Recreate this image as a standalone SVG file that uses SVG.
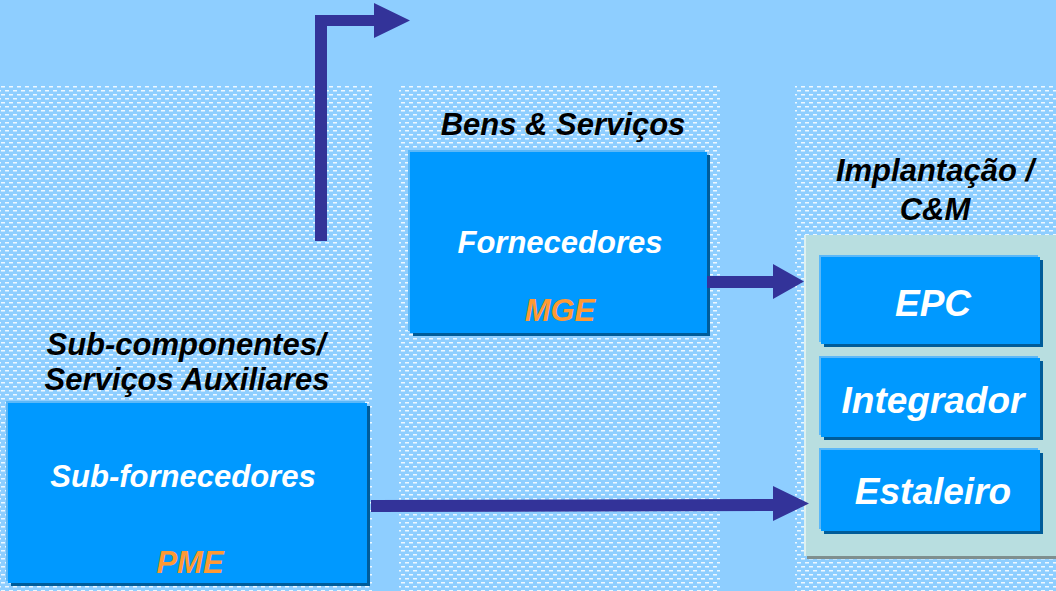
<svg xmlns="http://www.w3.org/2000/svg" width="1056" height="591" viewBox="0 0 1056 591">
<defs>
<pattern id="dots" x="0" y="85" width="8" height="8" patternUnits="userSpaceOnUse">
<rect width="8" height="8" fill="#8ECEFF"/>
<rect x="1" y="1" width="4" height="1.5" fill="#ffffff" opacity="0.85"/>
<rect x="5" y="5" width="4" height="1.5" fill="#ffffff" opacity="0.85"/>
<rect x="-3" y="5" width="4" height="1.5" fill="#ffffff" opacity="0.85"/>
</pattern>
<style>
.lbl{font-family:"Liberation Sans",Arial,sans-serif;font-weight:bold;font-style:italic;font-size:31px;fill:#000;text-anchor:middle}
.wt{font-family:"Liberation Sans",Arial,sans-serif;font-weight:bold;font-style:italic;font-size:31px;fill:#fff;text-anchor:middle}
.big{font-size:37px}
.or{font-family:"Liberation Sans",Arial,sans-serif;font-weight:bold;font-style:italic;font-size:31px;fill:#FF9933;text-anchor:middle}
.sh{fill:#005C99}
.hl{fill:#5CB8F8}
.bx{fill:#0099FF}
.arr{fill:#333399}
</style>
</defs>
<rect width="1056" height="591" fill="#8ECEFF"/>
<g id="columns">
<rect x="0" y="85" width="372" height="506" fill="url(#dots)"/>
<rect x="399" y="85" width="321" height="506" fill="url(#dots)"/>
<rect x="795" y="85" width="261" height="506" fill="url(#dots)"/>
</g>
<g id="labels">
<text class="lbl" x="563" y="135">Bens &amp; Serviços</text>
<text class="lbl" x="186" y="355">Sub-componentes/</text>
<text class="lbl" x="187" y="390">Serviços Auxiliares</text>
<text class="lbl" x="935" y="181">Implantação /</text>
<text class="lbl" x="935" y="220">C&amp;M</text>
</g>
<g id="fornecedores">
<rect class="sh" x="413" y="155" width="297" height="181"/>
<rect class="hl" x="408" y="150" width="297" height="181"/>
<rect class="bx" x="410" y="152" width="297" height="181"/>
<text class="wt" x="560" y="253">Fornecedores</text>
<text class="or" x="560" y="321">MGE</text>
</g>
<g id="subfornecedores">
<rect class="sh" x="11" y="406" width="359" height="180"/>
<rect class="hl" x="6" y="401" width="359" height="180"/>
<rect class="bx" x="8" y="403" width="359" height="180"/>
<text class="wt" x="183" y="487">Sub-fornecedores</text>
<text class="or" x="190" y="573">PME</text>
</g>
<g id="implantacao">
<rect x="807" y="238" width="256" height="321" fill="#7F8F8F"/>
<rect x="804" y="235" width="256" height="321" fill="#B8DEE0"/>
<rect x="804" y="235" width="2" height="321" fill="#DDF0F0"/>
</g>
<g id="epc">
<rect class="sh" x="824" y="260" width="219" height="87"/>
<rect class="hl" x="819" y="255" width="219" height="87"/>
<rect class="bx" x="821" y="257" width="219" height="87"/>
<text class="wt big" x="933" y="316">EPC</text>
</g>
<g id="integrador">
<rect class="sh" x="824" y="361" width="219" height="79"/>
<rect class="hl" x="819" y="356" width="219" height="79"/>
<rect class="bx" x="821" y="358" width="219" height="79"/>
<text class="wt big" x="933" y="413">Integrador</text>
</g>
<g id="estaleiro">
<rect class="sh" x="824" y="453" width="219" height="81"/>
<rect class="hl" x="819" y="448" width="219" height="81"/>
<rect class="bx" x="821" y="450" width="219" height="81"/>
<text class="wt big" x="933" y="504">Estaleiro</text>
</g>
<g id="connectors">
<polygon class="arr" points="315,241 327,241 327,26 374,26 374,38 410,20.5 374,3 374,15 315,15"/>
<polygon class="arr" points="707,276 773,276 773,264 804,281.5 773,299 773,288 707,288"/>
<polygon class="arr" points="371,500 773,499 773,486 809,503.5 773,521 773,511 371,512"/>
</g>
</svg>
